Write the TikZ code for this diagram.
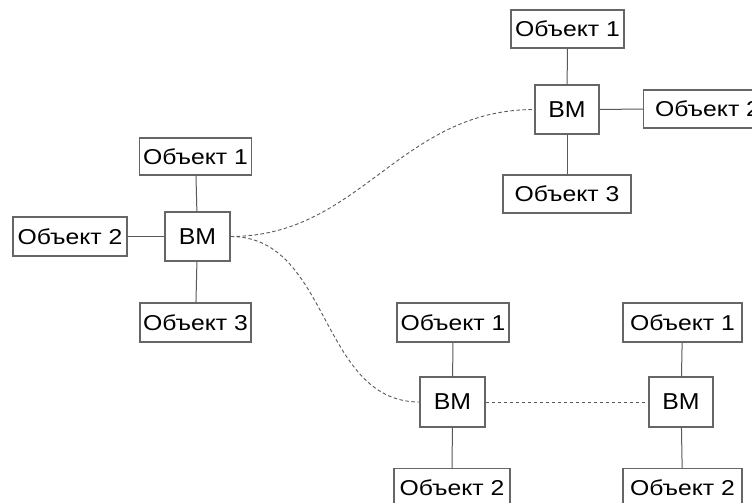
\documentclass[tikz,border=0pt]{standalone}
\usepackage{fontspec}
\setmainfont{Liberation Sans}
\newfontfamily\objfont[FakeStretch=1.15]{Liberation Sans}
\newfontfamily\vmfont[FakeStretch=1.08]{Liberation Sans}
\begin{document}
\begin{tikzpicture}[x=1pt,y=-1pt,
  obj/.style={draw=black!60,line width=1.1pt,inner sep=0pt,font=\objfont\fontsize{21.5}{24}\selectfont,text=black},
  vm/.style={obj,font=\vmfont\fontsize{23}{26}\selectfont},
  link/.style={draw=black!65,line width=1pt},
  dlink/.style={draw=black!65,line width=0.9pt,dash pattern=on 3.5pt off 2.5pt}]
\useasboundingbox (0,0) rectangle (752,503);
\clip (0,0) rectangle (752,503);
% left cluster
\node[vm,minimum width=65pt,minimum height=49pt] (vmL) at (197.5,236.5) {BM};
\node[obj,minimum width=112pt,minimum height=37pt] (l1) at (195.5,156.5) {Объект 1};
\node[obj,minimum width=114pt,minimum height=39pt] (l2) at (70,236.5) {Объект 2};
\node[obj,minimum width=111pt,minimum height=39pt] (l3) at (195.5,322.5) {Объект 3};
% top right cluster
\node[vm,minimum width=64pt,minimum height=49pt] (vmT) at (567,109.5) {BM};
\node[obj,minimum width=113pt,minimum height=38pt] (t1) at (567.5,29) {Объект 1};
\node[obj,minimum width=128pt,minimum height=38pt,anchor=west] (t2) at (643,109) {Объект 2};
\node[obj,minimum width=128pt,minimum height=38pt] (t3) at (567,194) {Объект 3};
% bottom middle
\node[vm,minimum width=65pt,minimum height=50pt] (vmB) at (452.5,402) {BM};
\node[obj,minimum width=112pt,minimum height=39pt] (b1) at (453,322.5) {Объект 1};
\node[obj,minimum width=116pt,minimum height=39pt,anchor=north] (b2) at (452,468) {Объект 2};
% bottom right
\node[vm,minimum width=64pt,minimum height=50pt] (vmR) at (681,402) {BM};
\node[obj,minimum width=119pt,minimum height=39pt] (r1) at (682.5,322.5) {Объект 1};
\node[obj,minimum width=119pt,minimum height=39pt,anchor=north] (r2) at (682.5,468) {Объект 2};
% solid links
\draw[link] (vmL) -- (l1);
\draw[link] (vmL) -- (l2);
\draw[link] (vmL) -- (l3);
\draw[link] (vmT) -- (t1);
\draw[link] (vmT.east) -- (t2.west);
\draw[link] (vmT) -- (t3);
\draw[link] (vmB) -- (b1);
\draw[link] (vmB) -- (b2);
\draw[link] (vmR) -- (r1);
\draw[link] (vmR) -- (r2);
% dashed links
\draw[dlink] (vmL.east) .. controls +(130,0) and +(-135,0) .. (vmT.west);
\draw[dlink] (vmL.east) .. controls +(100,0) and +(-100,0) .. (vmB.west);
\draw[dlink] (vmB.east) -- (vmR.west);
\end{tikzpicture}
\end{document}
